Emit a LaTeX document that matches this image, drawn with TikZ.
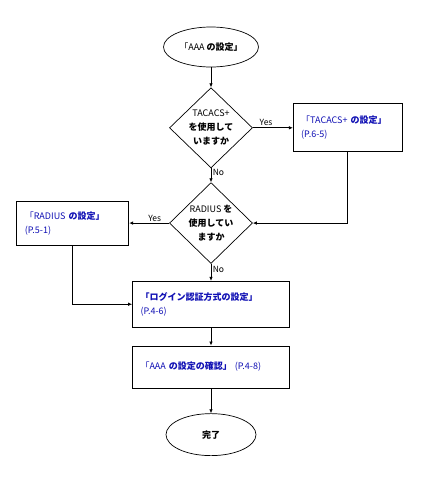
\documentclass[tikz,border=0pt]{standalone}
\usepackage{fontspec}
\newfontfamily\jp[AutoFakeSlant=0.2]{Noto Sans CJK JP}
\usepackage{xcolor}
\definecolor{linkblue}{HTML}{1010B4}
\usetikzlibrary{shapes.geometric, arrows.meta, positioning, calc}

\begin{document}
\begin{tikzpicture}[x=1pt, y=-1pt,
		font=\jp\fontsize{9}{14}\selectfont,
		terminal/.style={ellipse, draw, line width=0.7pt, minimum width=95pt, minimum height=40pt, inner sep=0pt},
		decision/.style={diamond, draw, line width=0.7pt, minimum width=83pt, minimum height=80pt, inner sep=0pt, align=center},
		process/.style={rectangle, draw, line width=0.7pt, inner sep=0pt, align=left, text=linkblue},
		arrow/.style={-{Latex[length=4pt,width=3.5pt]}, line width=0.7pt},
		lbl/.style={font=\jp\fontsize{8.5}{10}\selectfont, inner sep=1.5pt}
	]
	\useasboundingbox (0,0) rectangle (433,482);

	% 1. Alur utama dari atas ke bawah
	\node[terminal] (start) at (211,47) {「AAA {\bfseries\itshape の設定」}};
	\node[decision, below=20pt of start] (tacq) {TACACS+\\{\bfseries を使用して}\\{\bfseries いますか}};
	\node[decision, below=14pt of tacq] (radq) {RADIUS {\bfseries を}\\{\bfseries 使用してい}\\{\bfseries ますか}};
	\node[process, below=17pt of radq, minimum width=157pt, minimum height=46pt, text width=141pt] (login)
		{{\bfseries 「ログイン認証方式の設定」}\\(P.4-6)};
	\node[process, below=18pt of login, minimum width=157pt, minimum height=42pt, text width=141pt] (confirm)
		{「AAA {\bfseries\itshape の設定の確認」} (P.4-8)};
	\node[terminal, below=25pt of confirm, minimum width=90pt, minimum height=42pt] (finish) {{\bfseries 完了}};

	% 2. Kotak samping
	\node[process, right=40pt of tacq, minimum width=109pt, minimum height=48pt, text width=93pt] (tacset)
		{「TACACS+ {\bfseries\itshape の設定」}\\(P.6-5)};
	\node[process, left=40pt of radq, minimum width=112pt, minimum height=44pt, text width=96pt] (radset)
		{「RADIUS {\bfseries\itshape の設定」}\\(P.5-1)};

	% 3. Panah penghubung
	\draw[arrow] (start.south) -- (tacq.north);
	\draw[arrow] (tacq.east) -- node[lbl, above, pos=0.33] {Yes} (tacset.west);
	\draw[arrow] (tacq.south) -- node[lbl, right, pos=0.3] {No} (radq.north);
	\draw[arrow] (tacset.south) |- (radq.east);
	\draw[arrow] (radq.west) -- node[lbl, above, pos=0.36] {Yes} (radset.east);
	\draw[arrow] (radq.south) -- node[lbl, right, pos=0.35] {No} (radq.south |- login.north);
	\draw[arrow] (radset.south) |- (login.west);
	\draw[arrow] (login.south) -- (login.south |- confirm.north);
	\draw[arrow] (confirm.south) -- (confirm.south |- finish.north);

\end{tikzpicture}
\end{document}
